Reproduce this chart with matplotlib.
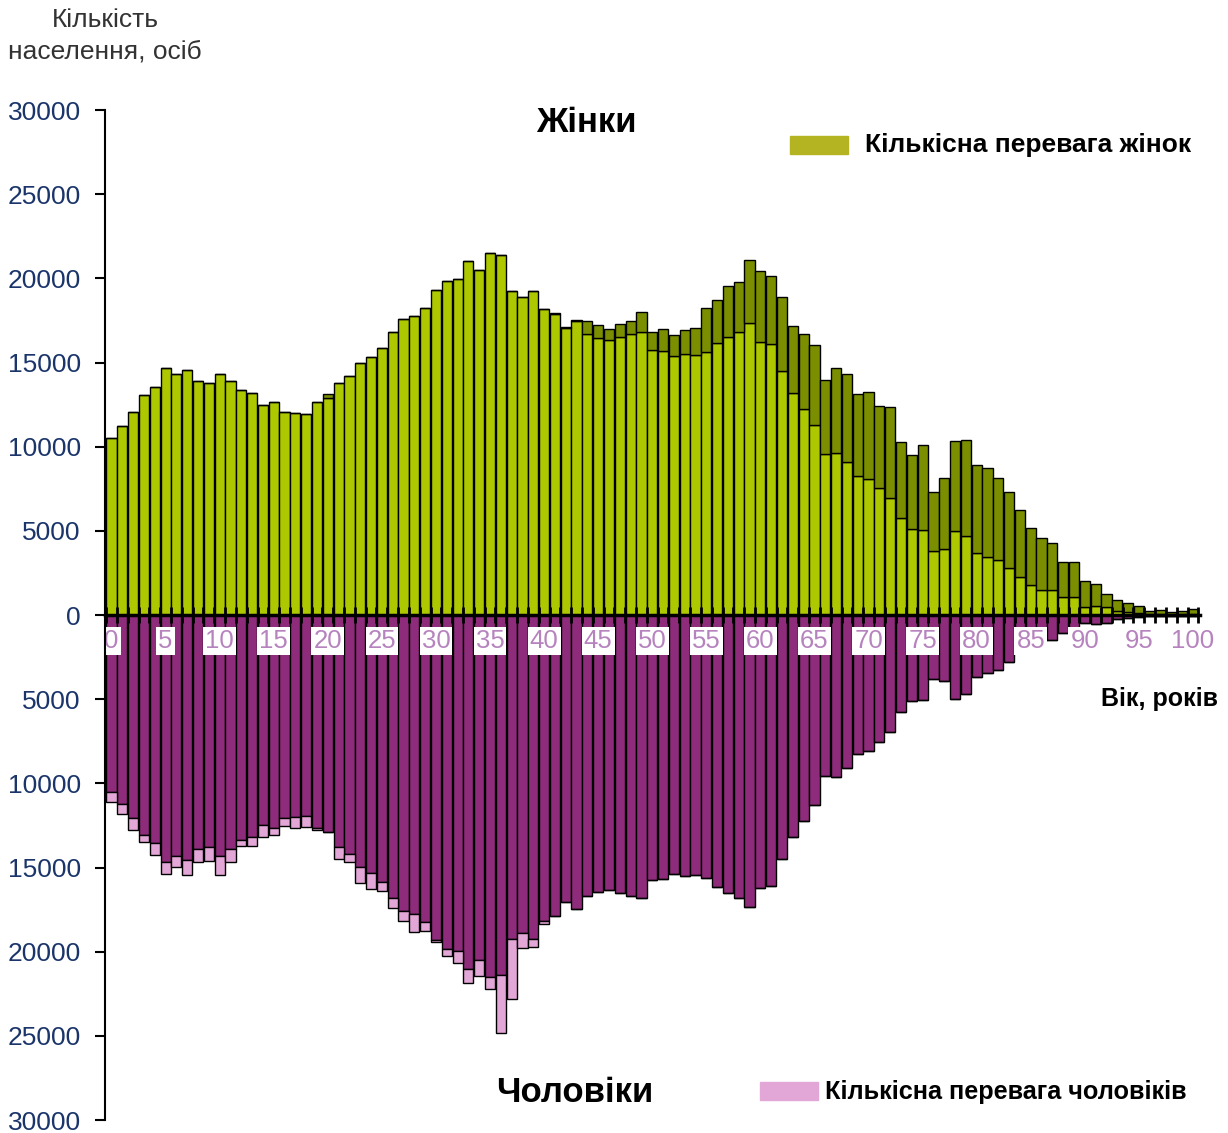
import numpy as np
import matplotlib
matplotlib.use("Agg")
import matplotlib.pyplot as plt
from matplotlib.patches import Rectangle

# population by single year of age, 0..100
ages = np.arange(0, 101)
women = [10530, 11250, 12080, 13090, 13530, 14700, 14300, 14540, 13920, 13780,
         14300, 13920, 13390, 13170, 12460, 12670, 12080, 12020, 11960, 12640,
         13130, 13770, 14220, 14970, 15350, 15840, 16800, 17580, 17760, 18220,
         19290, 19860, 19940, 21010, 20480, 21500, 21390, 19270, 18910, 19250,
         18160, 17920, 17130, 17510, 17470, 17210, 16970, 17310, 17450, 18000,
         16830, 16990, 16610, 16910, 17030, 18220, 18690, 19530, 19800, 21070,
         20420, 20120, 18910, 17170, 16670, 16040, 13940, 14690, 14300, 13110,
         13230, 12400, 12340, 10280, 9500, 10080, 7310, 8140, 10340, 10370,
         8890, 8710, 8160, 7290, 6220, 5170, 4550, 4260, 3170, 3130,
         2040, 1860, 1230, 870, 710, 550, 220, 300, 180, 250,
         360]
men = [11090, 11840, 12770, 13470, 14260, 15390, 14950, 15470, 14690, 14600,
       15470, 14690, 13710, 13720, 13210, 13090, 12520, 12650, 12580, 12770,
       12870, 14480, 14680, 15940, 16300, 16400, 17430, 18180, 18850, 18770,
       19450, 20260, 20660, 21880, 21450, 22240, 24850, 22810, 19800, 19710,
       18360, 17880, 17030, 17450, 16690, 16480, 16360, 16540, 16690, 16830,
       15740, 15700, 15390, 15510, 15450, 15650, 16140, 16520, 16820, 17340,
       16220, 16100, 14510, 13170, 12220, 11260, 9560, 9620, 9110, 8270,
       8100, 7550, 6930, 5770, 5100, 5070, 3790, 3900, 4990, 4700,
       3660, 3450, 3250, 2800, 2260, 1760, 1470, 1480, 1090, 1090,
       490, 530, 460, 220, 160, 100, 60, 50, 30, 30,
       30]

women = np.array(women)
men = np.array(men)
common = np.minimum(women, men)
extra_w = women - common
extra_m = men - common

light_green = "#AEC800"
dark_green = "#7A8E00"
legend_green = "#B4B423"
purple = "#8E2C7B"
pink = "#E2A6D7"
navy = "#1B356B"
tick_purple = "#B683BE"

W, H = 1228, 1133
fig = plt.figure(figsize=(W / 100, H / 100), dpi=100)
left, right, top, bottom = 104.5, 1200, 110, 1120
ax = fig.add_axes([left / W, 1 - bottom / H, (right - left) / W, (bottom - top) / H])

bw = 0.94
kw = dict(width=bw, edgecolor="black", linewidth=1.0)
ax.bar(ages, common, color=light_green, **kw)
ax.bar(ages, extra_w, bottom=common, color=dark_green, **kw)
ax.bar(ages, -common, color=purple, **kw)
ax.bar(ages, -extra_m, bottom=-common, color=pink, **kw)

ax.set_xlim(-0.65, 100.65)
ax.set_ylim(-30000, 30000)

for s in ["top", "right"]:
    ax.spines[s].set_visible(False)
ax.spines["left"].set_linewidth(1.5)
ax.spines["bottom"].set_position(("data", 0))
ax.spines["bottom"].set_linewidth(2.5)
ax.spines["bottom"].set_zorder(5)

yt = np.arange(-30000, 30001, 5000)
ax.set_yticks(yt)
ax.set_yticklabels([str(abs(v)) for v in yt])
ax.tick_params(axis="y", direction="out", length=7, width=1.5, pad=10,
               labelsize=19, labelcolor=navy)
for lbl in ax.get_yticklabels():
    lbl.set_fontfamily("Liberation Sans")

xt = np.arange(0, 101, 5)
ax.set_xticks(xt)
ax.set_xticklabels([str(v) for v in xt])
ax.set_xticks(np.arange(-0.5, 101, 1), minor=True)
ax.tick_params(axis="x", which="major", length=0, pad=10, labelsize=18.5,
               labelcolor=tick_purple)
ax.tick_params(axis="x", which="minor", direction="inout", length=11, width=2)
for lbl in ax.get_xticklabels():
    lbl.set_fontfamily("Liberation Sans")
    lbl.set_bbox(dict(facecolor="white", edgecolor="none", pad=1.5))
    lbl.set_zorder(6)


def fx(x):
    return x / W


def fy(y):
    return 1 - y / H


bold_font = ["Liberation Sans Narrow", "Liberation Sans"]

fig.text(fx(105), fy(8), "Кількість\nнаселення, осіб", ha="center", va="top",
         fontsize=19, color="#333333", family="Liberation Sans", linespacing=1.38)

fig.text(fx(586), fy(122), "Жінки", ha="center", va="center", fontsize=25,
         fontweight="bold", family=bold_font)
fig.text(fx(575), fy(1093), "Чоловіки", ha="center", va="center", fontsize=25,
         fontweight="bold", family=bold_font)

fig.patches.append(Rectangle((fx(790), fy(154)), fx(58), 18 / H, color=legend_green,
                             transform=fig.transFigure, figure=fig))
fig.text(fx(865), fy(145), "Кількісна перевага жінок", ha="left", va="center",
         fontsize=19, fontweight="bold", family=bold_font)

fig.patches.append(Rectangle((fx(760), fy(1100)), fx(58), 18 / H, color=pink,
                             transform=fig.transFigure, figure=fig))
fig.text(fx(825), fy(1092), "Кількісна перевага чоловіків", ha="left", va="center",
         fontsize=18.2, fontweight="bold", family=bold_font)

fig.text(fx(1218), fy(699), "Вік, років", ha="right", va="center",
         fontsize=18, fontweight="bold", family=bold_font)

fig.savefig("out.png", dpi=100)
